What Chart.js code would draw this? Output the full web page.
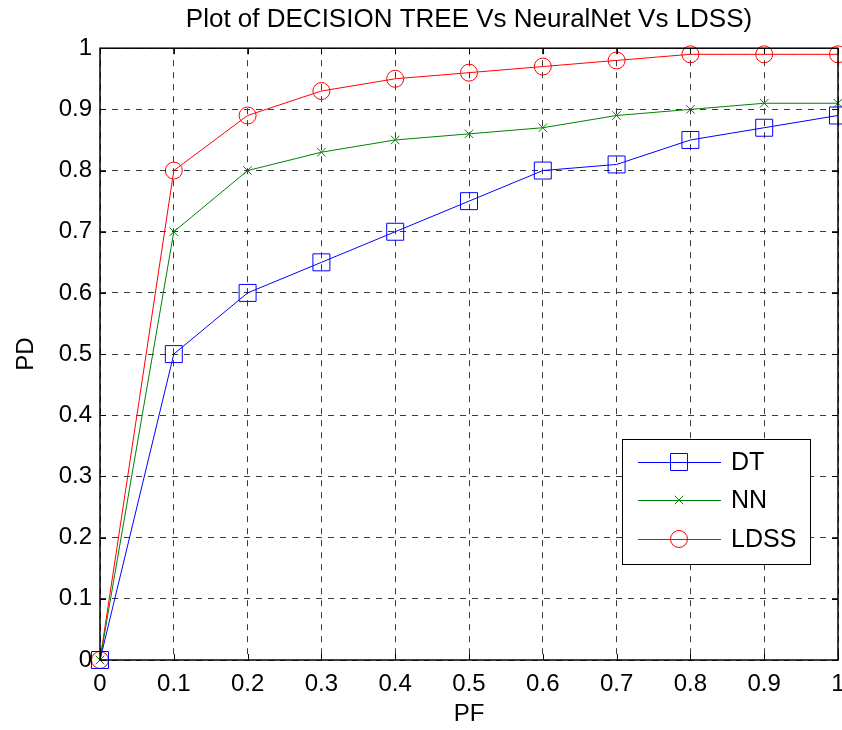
<!DOCTYPE html>
<html>
<head>
<meta charset="utf-8">
<script src="https://cdn.jsdelivr.net/npm/chart.js@4/dist/chart.umd.min.js"></script>
<style>
html,body{margin:0;padding:0;background:#fff;}
#wrap{width:842px;height:730px;position:relative;}
</style>
</head>
<body>
<div id="wrap"><canvas id="c" width="842" height="730"></canvas></div>
<script>
const pfValues = [0, 0.1, 0.2, 0.3, 0.4, 0.5, 0.6, 0.7, 0.8, 0.9, 1.0];
const dtValues = [0, 0.50, 0.60, 0.65, 0.70, 0.75, 0.80, 0.81, 0.85, 0.87, 0.89];
const nnValues = [0, 0.70, 0.80, 0.83, 0.85, 0.86, 0.87, 0.89, 0.90, 0.91, 0.91];
const ldssValues = [0, 0.80, 0.89, 0.93, 0.95, 0.96, 0.97, 0.98, 0.99, 0.99, 0.99];
const seriesNames = ['DT', 'NN', 'LDSS'];
const xTickLabels = ['0', '0.1', '0.2', '0.3', '0.4', '0.5', '0.6', '0.7', '0.8', '0.9', '1'];
const yTickLabels = ['0', '0.1', '0.2', '0.3', '0.4', '0.5', '0.6', '0.7', '0.8', '0.9', '1'];
const yTickValues = [0, 0.1, 0.2, 0.3, 0.4, 0.5, 0.6, 0.7, 0.8, 0.9, 1.0];
const titleText = 'Plot of DECISION TREE Vs NeuralNet Vs LDSS)';

const FONT = "'Liberation Sans', Arial, sans-serif";

function pts(ys) { return ys.map((y, i) => ({x: pfValues[i], y: y})); }

const boxPlugin = {
  id: 'boxPlugin',
  afterDatasetsDraw(chart) {
    const ctx = chart.ctx, a = chart.chartArea;
    const xs = chart.scales.x, ys = chart.scales.y;
    ctx.save();
    ctx.strokeStyle = '#000';
    ctx.lineWidth = 1;
    ctx.setLineDash([]);
    ctx.beginPath();
    pfValues.forEach(v => {
      const px = Math.round(xs.getPixelForValue(v)) + 0.5;
      ctx.moveTo(px, a.bottom); ctx.lineTo(px, a.bottom - 6);
      ctx.moveTo(px, a.top); ctx.lineTo(px, a.top + 6);
    });
    yTickValues.forEach(v => {
      const py = Math.round(ys.getPixelForValue(v)) + 0.5;
      ctx.moveTo(a.left, py); ctx.lineTo(a.left + 6, py);
      ctx.moveTo(a.right, py); ctx.lineTo(a.right - 6, py);
    });
    ctx.stroke();
    ctx.lineWidth = 1.5;
    ctx.strokeRect(a.left, a.top, a.right - a.left, a.bottom - a.top);
    ctx.restore();
  },
  afterDraw(chart) {
    const ctx = chart.ctx;
    const L = 622, T = 439, W = 188, H = 125;
    ctx.save();
    ctx.fillStyle = '#fff';
    ctx.fillRect(L, T, W, H);
    ctx.strokeStyle = '#000';
    ctx.lineWidth = 1;
    ctx.setLineDash([]);
    ctx.strokeRect(L + 0.5, T + 0.5, W, H);
    const rowsY = [462, 500, 539];
    chart.data.datasets.forEach((ds, i) => {
      const y = rowsY[i];
      ctx.strokeStyle = ds.borderColor;
      ctx.lineWidth = 1;
      ctx.beginPath();
      ctx.moveTo(638, y + 0.5); ctx.lineTo(721, y + 0.5);
      ctx.stroke();
      ctx.fillStyle = 'rgba(0,0,0,0)';
      Chart.helpers.drawPoint(ctx, {pointStyle: ds.pointStyle, radius: ds.pointRadius, rotation: 0, borderWidth: 1}, 679, y);
      ctx.fillStyle = '#000';
      ctx.font = '25px ' + FONT;
      ctx.textBaseline = 'middle';
      ctx.textAlign = 'left';
      ctx.fillText(ds.label, 731, y + 1);
    });
    ctx.restore();
  }
};

const colors = ['#0000ff', '#008000', '#ff0000'];
const styles = ['rect', 'crossRot', 'circle'];
const radii = [12, 6, 8.5];
const allValues = [dtValues, nnValues, ldssValues];

new Chart(document.getElementById('c'), {
  type: 'line',
  data: {
    datasets: seriesNames.map((n, i) => ({
      label: n,
      data: pts(allValues[i]),
      borderColor: colors[i],
      backgroundColor: 'rgba(0,0,0,0)',
      pointBorderColor: colors[i],
      pointBackgroundColor: 'rgba(0,0,0,0)',
      borderWidth: 1,
      pointBorderWidth: 1,
      pointStyle: styles[i],
      pointRadius: radii[i],
      pointHoverRadius: radii[i],
      tension: 0,
      clip: false
    }))
  },
  options: {
    responsive: false,
    animation: false,
    devicePixelRatio: 1,
    layout: {autoPadding: false, padding: {left: 0, right: 4, top: 0, bottom: 0}},
    plugins: {
      legend: {display: false},
      tooltip: {enabled: false},
      title: {
        display: true,
        fullSize: false,
        text: titleText,
        color: '#000',
        font: {family: FONT, size: 26, weight: 'normal'},
        padding: {top: 4, bottom: 13}
      }
    },
    scales: {
      x: {
        type: 'linear',
        min: 0, max: 1,
        afterBuildTicks(s) { s.ticks = pfValues.map(v => ({value: v})); },
        afterFit(s) { s.height = 70; s.paddingRight = 0; s.paddingLeft = 0; },
        ticks: {
          color: '#000',
          font: {family: FONT, size: 24},
          padding: 10,
          maxRotation: 0,
          autoSkip: false,
          callback: (v, i) => xTickLabels[i]
        },
        grid: {
          color: '#3a3a3a',
          lineWidth: 1,
          drawTicks: false
        },
        border: {display: false, dash: [6, 6]},
        title: {
          display: true, text: 'PF', color: '#000',
          font: {family: FONT, size: 24},
          padding: {top: 0, bottom: 1}
        }
      },
      y: {
        type: 'linear',
        min: 0, max: 1,
        afterBuildTicks(s) { s.ticks = yTickValues.map(v => ({value: v})); },
        afterFit(s) { s.width = 100; },
        ticks: {
          color: '#000',
          font: {family: FONT, size: 24},
          padding: 8,
          autoSkip: false,
          callback: (v, i) => yTickLabels[i]
        },
        grid: {
          color: '#3a3a3a',
          lineWidth: 1,
          drawTicks: false
        },
        border: {display: false, dash: [6, 6]},
        title: {
          display: true, text: 'PD', color: '#000',
          font: {family: FONT, size: 24},
          padding: {top: 12, bottom: 0}
        }
      }
    }
  },
  plugins: [boxPlugin]
});
</script>
</body>
</html>
